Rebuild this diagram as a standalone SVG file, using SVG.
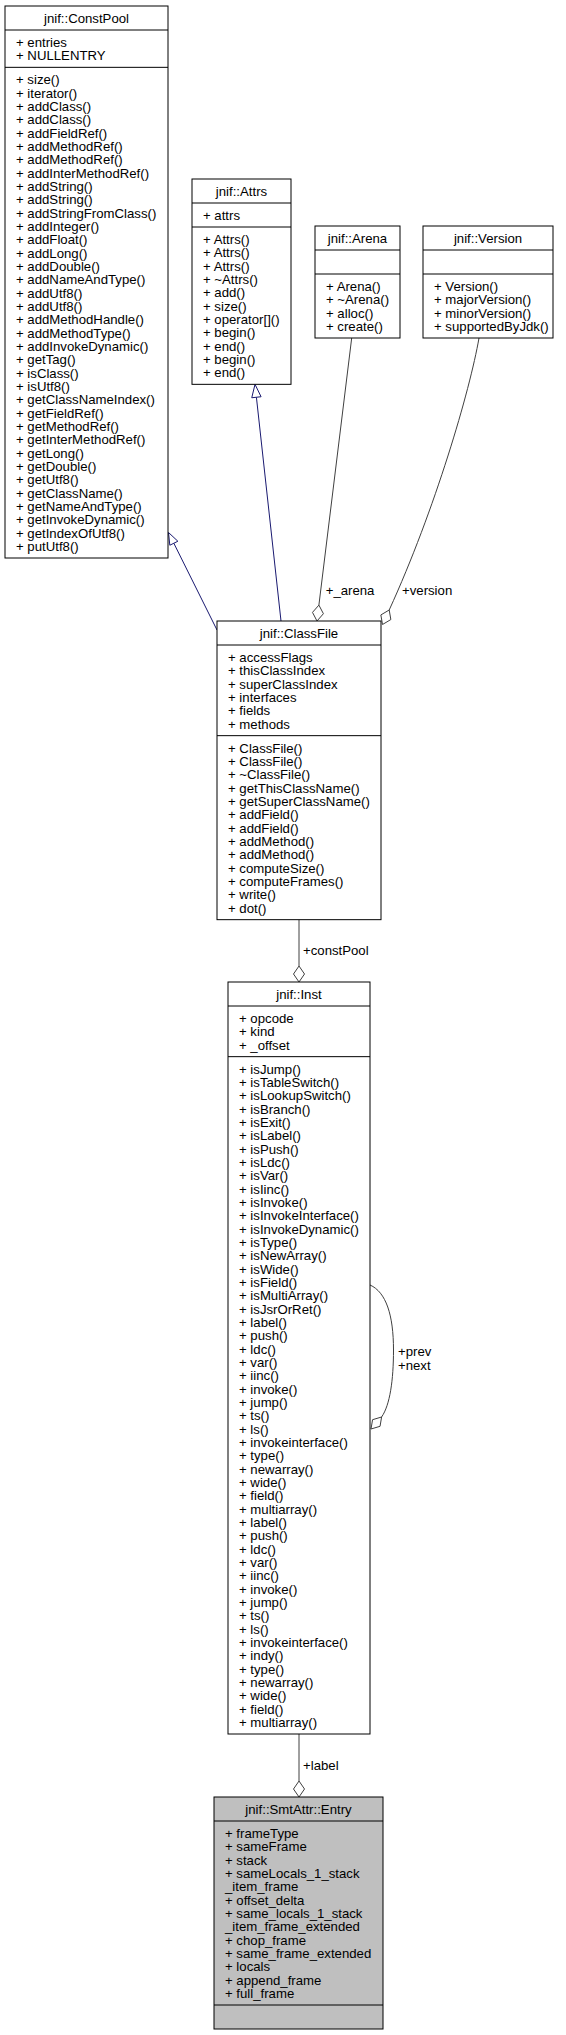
<svg xmlns="http://www.w3.org/2000/svg" width="566" height="2035" viewBox="0 0 566 2035">
<style>
.box{fill:#ffffff;stroke:#000000;stroke-width:1}
.cur{fill:#bfbfbf;stroke:#000000;stroke-width:1}
.sep{stroke:#000000;stroke-width:1}
text{font-family:"Liberation Sans",Arial,Helvetica,sans-serif;font-size:13.2px;fill:#000000}
.tt{text-anchor:middle}
.inh{stroke:#191970;stroke-width:1;fill:none}
.inhh{stroke:#191970;stroke-width:1;fill:#ffffff}
.agg{stroke:#404040;stroke-width:1;fill:none}
.aggh{stroke:#404040;stroke-width:1;fill:#ffffff}
</style>
<rect width="566" height="2035" fill="#ffffff"/>

<g id="connectors">
<line class="inh" x1="217" y1="630" x2="173.84" y2="543.24"/>
<polygon class="inhh" points="168.5,532.5 177.87,541.24 169.81,545.24"/>
<line class="inh" x1="281" y1="621" x2="256.42" y2="397.25"/>
<polygon class="inhh" points="255,384.33 261.09,396.74 251.75,397.76"/>
<line class="agg" x1="351.7" y1="338" x2="318.9" y2="605.1"/>
<polygon class="aggh" points="317,621 323.41,613.71 318.9,605.1 312.49,612.39"/>
<text x="325.7" y="594.5">+_arena</text>
<path class="agg" d="M479,338 C470,390 435,510 389.2,610"/>
<polygon class="aggh" points="382.5,624.5 390.85,619.55 389.2,610 380.85,614.95"/>
<text x="402" y="594.5">+version</text>
<line class="agg" x1="299" y1="919.67" x2="299" y2="966"/>
<polygon class="aggh" points="299,982 304.5,974 299,966 293.5,974"/>
<text x="303" y="955">+constPool</text>
<path class="agg" d="M370,1285 C386,1292 393.5,1315 393.5,1350 C393.5,1380 390,1405 381.6,1417"/>
<polygon class="aggh" points="371,1429 380.05,1426.3 381.6,1417 372.55,1419.7"/>
<text x="398" y="1356">+prev</text>
<text x="398" y="1369.5">+next</text>
<line class="agg" x1="299" y1="1734" x2="299" y2="1781"/>
<polygon class="aggh" points="299,1797 304.5,1789 299,1781 293.5,1789"/>
<text x="303" y="1770">+label</text>
</g>

<g id="ConstPool">
<rect class="box" x="5" y="6" width="163" height="552"/>
<line class="sep" x1="5" y1="30" x2="168" y2="30"/>
<line class="sep" x1="5" y1="67.33" x2="168" y2="67.33"/>
<text class="tt" x="86.5" y="23">jnif::ConstPool</text>
<text x="16" y="47"><tspan x="16">+ entries</tspan><tspan x="16" dy="13.33">+ NULLENTRY</tspan></text>
<text x="16" y="84.33"><tspan x="16">+ size()</tspan><tspan x="16" dy="13.33">+ iterator()</tspan><tspan x="16" dy="13.33">+ addClass()</tspan><tspan x="16" dy="13.33">+ addClass()</tspan><tspan x="16" dy="13.33">+ addFieldRef()</tspan><tspan x="16" dy="13.33">+ addMethodRef()</tspan><tspan x="16" dy="13.33">+ addMethodRef()</tspan><tspan x="16" dy="13.33">+ addInterMethodRef()</tspan><tspan x="16" dy="13.33">+ addString()</tspan><tspan x="16" dy="13.33">+ addString()</tspan><tspan x="16" dy="13.33">+ addStringFromClass()</tspan><tspan x="16" dy="13.33">+ addInteger()</tspan><tspan x="16" dy="13.33">+ addFloat()</tspan><tspan x="16" dy="13.33">+ addLong()</tspan><tspan x="16" dy="13.33">+ addDouble()</tspan><tspan x="16" dy="13.33">+ addNameAndType()</tspan><tspan x="16" dy="13.33">+ addUtf8()</tspan><tspan x="16" dy="13.33">+ addUtf8()</tspan><tspan x="16" dy="13.33">+ addMethodHandle()</tspan><tspan x="16" dy="13.33">+ addMethodType()</tspan><tspan x="16" dy="13.33">+ addInvokeDynamic()</tspan><tspan x="16" dy="13.33">+ getTag()</tspan><tspan x="16" dy="13.33">+ isClass()</tspan><tspan x="16" dy="13.33">+ isUtf8()</tspan><tspan x="16" dy="13.33">+ getClassNameIndex()</tspan><tspan x="16" dy="13.33">+ getFieldRef()</tspan><tspan x="16" dy="13.33">+ getMethodRef()</tspan><tspan x="16" dy="13.33">+ getInterMethodRef()</tspan><tspan x="16" dy="13.33">+ getLong()</tspan><tspan x="16" dy="13.33">+ getDouble()</tspan><tspan x="16" dy="13.33">+ getUtf8()</tspan><tspan x="16" dy="13.33">+ getClassName()</tspan><tspan x="16" dy="13.33">+ getNameAndType()</tspan><tspan x="16" dy="13.33">+ getInvokeDynamic()</tspan><tspan x="16" dy="13.33">+ getIndexOfUtf8()</tspan><tspan x="16" dy="13.33">+ putUtf8()</tspan></text>
</g>

<g id="Attrs">
<rect class="box" x="192" y="179" width="99" height="205.33"/>
<line class="sep" x1="192" y1="203" x2="291" y2="203"/>
<line class="sep" x1="192" y1="227" x2="291" y2="227"/>
<text class="tt" x="241.5" y="196">jnif::Attrs</text>
<text x="203" y="220">+ attrs</text>
<text x="203" y="244"><tspan x="203">+ Attrs()</tspan><tspan x="203" dy="13.33">+ Attrs()</tspan><tspan x="203" dy="13.33">+ Attrs()</tspan><tspan x="203" dy="13.33">+ ~Attrs()</tspan><tspan x="203" dy="13.33">+ add()</tspan><tspan x="203" dy="13.33">+ size()</tspan><tspan x="203" dy="13.33">+ operator[]()</tspan><tspan x="203" dy="13.33">+ begin()</tspan><tspan x="203" dy="13.33">+ end()</tspan><tspan x="203" dy="13.33">+ begin()</tspan><tspan x="203" dy="13.33">+ end()</tspan></text>
</g>

<g id="Arena">
<rect class="box" x="315" y="226" width="85" height="112"/>
<line class="sep" x1="315" y1="250" x2="400" y2="250"/>
<line class="sep" x1="315" y1="274" x2="400" y2="274"/>
<text class="tt" x="357.5" y="243">jnif::Arena</text>
<text x="326" y="291"><tspan x="326">+ Arena()</tspan><tspan x="326" dy="13.33">+ ~Arena()</tspan><tspan x="326" dy="13.33">+ alloc()</tspan><tspan x="326" dy="13.33">+ create()</tspan></text>
</g>

<g id="Version">
<rect class="box" x="423" y="226" width="130" height="112"/>
<line class="sep" x1="423" y1="250" x2="553" y2="250"/>
<line class="sep" x1="423" y1="274" x2="553" y2="274"/>
<text class="tt" x="488" y="243">jnif::Version</text>
<text x="434" y="291"><tspan x="434">+ Version()</tspan><tspan x="434" dy="13.33">+ majorVersion()</tspan><tspan x="434" dy="13.33">+ minorVersion()</tspan><tspan x="434" dy="13.33">+ supportedByJdk()</tspan></text>
</g>

<g id="ClassFile">
<rect class="box" x="217" y="621" width="164" height="298.67"/>
<line class="sep" x1="217" y1="645" x2="381" y2="645"/>
<line class="sep" x1="217" y1="735.67" x2="381" y2="735.67"/>
<text class="tt" x="299" y="638">jnif::ClassFile</text>
<text x="228" y="662"><tspan x="228">+ accessFlags</tspan><tspan x="228" dy="13.33">+ thisClassIndex</tspan><tspan x="228" dy="13.33">+ superClassIndex</tspan><tspan x="228" dy="13.33">+ interfaces</tspan><tspan x="228" dy="13.33">+ fields</tspan><tspan x="228" dy="13.33">+ methods</tspan></text>
<text x="228" y="752.67"><tspan x="228">+ ClassFile()</tspan><tspan x="228" dy="13.33">+ ClassFile()</tspan><tspan x="228" dy="13.33">+ ~ClassFile()</tspan><tspan x="228" dy="13.33">+ getThisClassName()</tspan><tspan x="228" dy="13.33">+ getSuperClassName()</tspan><tspan x="228" dy="13.33">+ addField()</tspan><tspan x="228" dy="13.33">+ addField()</tspan><tspan x="228" dy="13.33">+ addMethod()</tspan><tspan x="228" dy="13.33">+ addMethod()</tspan><tspan x="228" dy="13.33">+ computeSize()</tspan><tspan x="228" dy="13.33">+ computeFrames()</tspan><tspan x="228" dy="13.33">+ write()</tspan><tspan x="228" dy="13.33">+ dot()</tspan></text>
</g>

<g id="Inst">
<rect class="box" x="228" y="982" width="142" height="752"/>
<line class="sep" x1="228" y1="1006" x2="370" y2="1006"/>
<line class="sep" x1="228" y1="1056.67" x2="370" y2="1056.67"/>
<text class="tt" x="299" y="999">jnif::Inst</text>
<text x="239" y="1023"><tspan x="239">+ opcode</tspan><tspan x="239" dy="13.33">+ kind</tspan><tspan x="239" dy="13.33">+ _offset</tspan></text>
<text x="239" y="1073.67"><tspan x="239">+ isJump()</tspan><tspan x="239" dy="13.33">+ isTableSwitch()</tspan><tspan x="239" dy="13.33">+ isLookupSwitch()</tspan><tspan x="239" dy="13.33">+ isBranch()</tspan><tspan x="239" dy="13.33">+ isExit()</tspan><tspan x="239" dy="13.33">+ isLabel()</tspan><tspan x="239" dy="13.33">+ isPush()</tspan><tspan x="239" dy="13.33">+ isLdc()</tspan><tspan x="239" dy="13.33">+ isVar()</tspan><tspan x="239" dy="13.33">+ isIinc()</tspan><tspan x="239" dy="13.33">+ isInvoke()</tspan><tspan x="239" dy="13.33">+ isInvokeInterface()</tspan><tspan x="239" dy="13.33">+ isInvokeDynamic()</tspan><tspan x="239" dy="13.33">+ isType()</tspan><tspan x="239" dy="13.33">+ isNewArray()</tspan><tspan x="239" dy="13.33">+ isWide()</tspan><tspan x="239" dy="13.33">+ isField()</tspan><tspan x="239" dy="13.33">+ isMultiArray()</tspan><tspan x="239" dy="13.33">+ isJsrOrRet()</tspan><tspan x="239" dy="13.33">+ label()</tspan><tspan x="239" dy="13.33">+ push()</tspan><tspan x="239" dy="13.33">+ ldc()</tspan><tspan x="239" dy="13.33">+ var()</tspan><tspan x="239" dy="13.33">+ iinc()</tspan><tspan x="239" dy="13.33">+ invoke()</tspan><tspan x="239" dy="13.33">+ jump()</tspan><tspan x="239" dy="13.33">+ ts()</tspan><tspan x="239" dy="13.33">+ ls()</tspan><tspan x="239" dy="13.33">+ invokeinterface()</tspan><tspan x="239" dy="13.33">+ type()</tspan><tspan x="239" dy="13.33">+ newarray()</tspan><tspan x="239" dy="13.33">+ wide()</tspan><tspan x="239" dy="13.33">+ field()</tspan><tspan x="239" dy="13.33">+ multiarray()</tspan><tspan x="239" dy="13.33">+ label()</tspan><tspan x="239" dy="13.33">+ push()</tspan><tspan x="239" dy="13.33">+ ldc()</tspan><tspan x="239" dy="13.33">+ var()</tspan><tspan x="239" dy="13.33">+ iinc()</tspan><tspan x="239" dy="13.33">+ invoke()</tspan><tspan x="239" dy="13.33">+ jump()</tspan><tspan x="239" dy="13.33">+ ts()</tspan><tspan x="239" dy="13.33">+ ls()</tspan><tspan x="239" dy="13.33">+ invokeinterface()</tspan><tspan x="239" dy="13.33">+ indy()</tspan><tspan x="239" dy="13.33">+ type()</tspan><tspan x="239" dy="13.33">+ newarray()</tspan><tspan x="239" dy="13.33">+ wide()</tspan><tspan x="239" dy="13.33">+ field()</tspan><tspan x="239" dy="13.33">+ multiarray()</tspan></text>
</g>

<g id="SmtAttrEntry">
<rect class="cur" x="214" y="1797" width="169" height="232"/>
<line class="sep" x1="214" y1="1821" x2="383" y2="1821"/>
<line class="sep" x1="214" y1="2005" x2="383" y2="2005"/>
<text class="tt" x="298.5" y="1814">jnif::SmtAttr::Entry</text>
<text x="225" y="1838"><tspan x="225">+ frameType</tspan><tspan x="225" dy="13.33">+ sameFrame</tspan><tspan x="225" dy="13.33">+ stack</tspan><tspan x="225" dy="13.33">+ sameLocals_1_stack</tspan><tspan x="225" dy="13.33">_item_frame</tspan><tspan x="225" dy="13.33">+ offset_delta</tspan><tspan x="225" dy="13.33">+ same_locals_1_stack</tspan><tspan x="225" dy="13.33">_item_frame_extended</tspan><tspan x="225" dy="13.33">+ chop_frame</tspan><tspan x="225" dy="13.33">+ same_frame_extended</tspan><tspan x="225" dy="13.33">+ locals</tspan><tspan x="225" dy="13.33">+ append_frame</tspan><tspan x="225" dy="13.33">+ full_frame</tspan></text>
</g>
</svg>
